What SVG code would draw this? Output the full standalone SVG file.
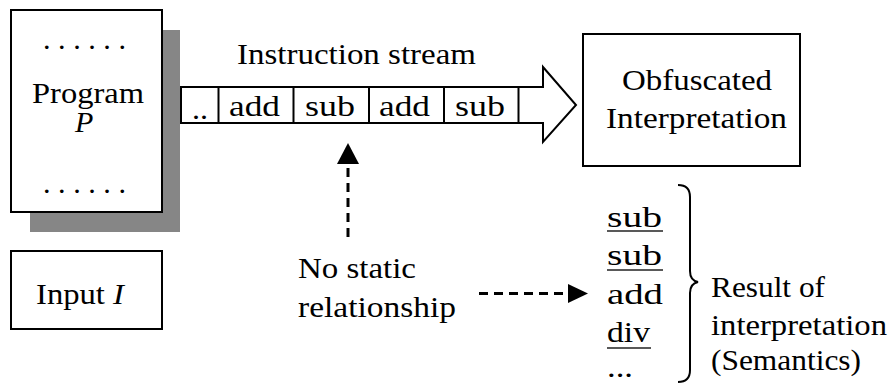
<svg xmlns="http://www.w3.org/2000/svg" width="892" height="392" viewBox="0 0 892 392">
  <style>
    text { font-family: "Times New Roman", "Liberation Serif", Times, serif; font-size: 30px; fill: #000; }
    .it { font-style: italic; }
    .box { fill: #fff; stroke: #000; stroke-width: 2; }
    .line { fill: none; stroke: #000; stroke-width: 2; }
    .dash { fill: none; stroke: #000; stroke-width: 3; stroke-dasharray: 9 6; }
    .ul { stroke: #222; stroke-width: 1.6; }
  </style>

  <!-- program listing with drop shadow -->
  <g id="program">
    <rect x="30" y="30" width="150" height="202" fill="#868686"/>
    <rect class="box" x="11" y="10" width="151" height="202"/>
    <text x="43" y="49" textLength="83" lengthAdjust="spacingAndGlyphs">. . . . . .</text>
    <text x="32" y="103" textLength="112" lengthAdjust="spacingAndGlyphs">Program</text>
    <text class="it" x="75" y="132">P</text>
    <text x="43" y="193" textLength="83" lengthAdjust="spacingAndGlyphs">. . . . . .</text>
  </g>

  <!-- input box -->
  <g id="input">
    <rect class="box" x="11" y="251" width="151" height="78"/>
    <text x="36" y="304" textLength="88" lengthAdjust="spacingAndGlyphs">Input <tspan class="it">I</tspan></text>
  </g>

  <!-- instruction stream arrow -->
  <g id="stream">
    <text x="237" y="64" textLength="239" lengthAdjust="spacingAndGlyphs">Instruction stream</text>
    <path class="line" d="M181,87 L543,87 L543,67 L576,105 L543,142 L543,123 L181,123 Z" fill="#fff"/>
    <line class="line" x1="218.5" y1="87" x2="218.5" y2="123"/>
    <line class="line" x1="293.5" y1="87" x2="293.5" y2="123"/>
    <line class="line" x1="369" y1="87" x2="369" y2="123"/>
    <line class="line" x1="444" y1="87" x2="444" y2="123"/>
    <line class="line" x1="518.5" y1="87" x2="518.5" y2="123"/>
    <text x="192" y="119" textLength="16" lengthAdjust="spacingAndGlyphs">..</text>
    <text x="229" y="116" textLength="51" lengthAdjust="spacingAndGlyphs">add</text>
    <text x="305" y="116" textLength="50" lengthAdjust="spacingAndGlyphs">sub</text>
    <text x="379" y="116" textLength="51" lengthAdjust="spacingAndGlyphs">add</text>
    <text x="455" y="116" textLength="50" lengthAdjust="spacingAndGlyphs">sub</text>
  </g>

  <!-- interpreter -->
  <g id="interpreter">
    <rect class="box" x="583" y="34" width="217" height="132"/>
    <text x="622" y="90" textLength="150" lengthAdjust="spacingAndGlyphs">Obfuscated</text>
    <text x="606" y="128" textLength="181" lengthAdjust="spacingAndGlyphs">Interpretation</text>
  </g>

  <!-- note -->
  <g id="note">
    <text x="298" y="278" textLength="118" lengthAdjust="spacingAndGlyphs">No static</text>
    <text x="298" y="317" textLength="158" lengthAdjust="spacingAndGlyphs">relationship</text>
  </g>

  <!-- executed sequence -->
  <g id="result">
    <text x="607" y="227" textLength="55" lengthAdjust="spacingAndGlyphs">sub</text>
    <line class="ul" x1="607" y1="231" x2="663" y2="231"/>
    <text x="607" y="265" textLength="55" lengthAdjust="spacingAndGlyphs">sub</text>
    <line class="ul" x1="607" y1="270" x2="663" y2="270"/>
    <text x="607" y="304" textLength="56" lengthAdjust="spacingAndGlyphs">add</text>
    <text x="607" y="342" textLength="43" lengthAdjust="spacingAndGlyphs">div</text>
    <line class="ul" x1="607" y1="348" x2="651" y2="348"/>
    <text x="607" y="377" textLength="26" lengthAdjust="spacingAndGlyphs">...</text>
    <path class="line" d="M678,185 C686,185 690,189 690,197 L690,271 C690,278 693,281 698,282 C693,283 690,286 690,293 L690,370 C690,378 686,382 678,382"/>
    <text x="711" y="297" textLength="114" lengthAdjust="spacingAndGlyphs">Result of</text>
    <text x="711" y="335" textLength="176" lengthAdjust="spacingAndGlyphs">interpretation</text>
    <text x="711" y="370" textLength="150" lengthAdjust="spacingAndGlyphs">(Semantics)</text>
  </g>

  <!-- dashed connectors -->
  <g id="connectors">
    <line class="dash" x1="348" y1="237" x2="348" y2="162"/>
    <path d="M337,164 L348,143 L359,164 Z" fill="#000"/>
    <line class="dash" x1="479" y1="293.5" x2="570" y2="293.5"/>
    <path d="M568,284 L588,293.5 L568,303 Z" fill="#000"/>
  </g>
</svg>
